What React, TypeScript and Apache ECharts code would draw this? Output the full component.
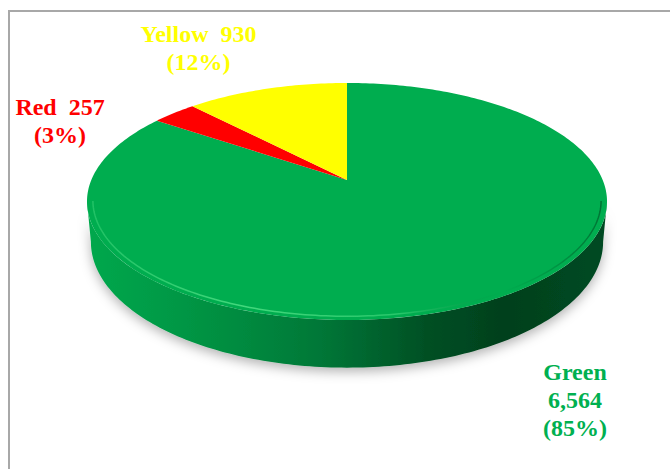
import React, { useEffect, useRef } from "react";
import * as echarts from "echarts";

// ---- data ----
const CATEGORIES = ["Green", "Red", "Yellow"];
const VALUES = [6564, 257, 930];
const SLICE_COLORS = ["#00ad4f", "#ff0000", "#ffff00"];
const LABEL_COLORS = ["#00b050", "#ff0000", "#ffff00"];
const LABEL_SEPARATORS = ["\n", "  ", "  "];

// ---- layout (not data) ----
const LABEL_OFFSETS = [
  [87, 99],
  [-114, 8],
  [-68, -41],
];
const CX = 347;
const CY = 180;
const RX = 255.7;
const RY = 114.6;
const PERSP = 0.1814;
const DEPTH = 39;

const SIDE_SHADES = [
  [0, 0.97],
  [0.15, 0.89],
  [0.3, 0.8],
  [0.45, 0.69],
  [0.55, 0.58],
  [0.65, 0.46],
  [0.8, 0.37],
  [1, 0.43],
];

function darken(hex: string, f: number) {
  const n = parseInt(hex.slice(1), 16);
  const r = Math.round(((n >> 16) & 255) * f);
  const g = Math.round(((n >> 8) & 255) * f);
  const b = Math.round((n & 255) * f);
  return `rgb(${r},${g},${b})`;
}

function proj(theta: number, r: number, drop: number) {
  const X = r * Math.sin(theta);
  const Z = -r * Math.cos(theta);
  const d = 1 - PERSP * Z;
  const rx = drop ? RX * 0.985 : RX;
  return [CX + (rx * X) / d, CY + (RY * Z) / d + (drop * DEPTH) / d];
}

export default function App() {
  const ref = useRef<HTMLDivElement>(null);
  useEffect(() => {
    if (!ref.current) return;
    const chart = echarts.init(ref.current, undefined, { renderer: "svg" });
    const total = VALUES.reduce((a, b) => a + b, 0);
    const DEG = Math.PI / 180;

    const renderItem = (params: any, api: any) => {
      const i = params.dataIndex;
      const v = api.value(0);
      let before = 0;
      for (let k = 0; k < i; k++) before += VALUES[k];
      const a0 = (before / total) * 2 * Math.PI;
      const a1 = ((before + v) / total) * 2 * Math.PI;
      const children: any[] = [];

      // top face
      const pts: number[][] = [[CX, CY]];
      const n = Math.max(2, Math.ceil((a1 - a0) / DEG));
      for (let s = 0; s <= n; s++) pts.push(proj(a0 + ((a1 - a0) * s) / n, 1, 0));
      children.push({
        type: "polygon",
        shape: { points: pts },
        style: { fill: SLICE_COLORS[i] },
        z2: 10,
      });

      // visible side wall
      const vis0 = Math.acos(-PERSP);
      const vis1 = 2 * Math.PI - vis0;
      const s0 = Math.max(a0, vis0);
      const s1 = Math.min(a1, vis1);
      if (s1 > s0) {
        const top: number[][] = [];
        const bot: number[][] = [];
        const hl: number[][] = [];
        const m = Math.max(2, Math.ceil((s1 - s0) / DEG));
        for (let s = 0; s <= m; s++) {
          const t = s0 + ((s1 - s0) * s) / m;
          top.push(proj(t, 1, 0));
          bot.push(proj(t, 1, 1));
          hl.push(proj(t, 0.978, 0));
        }
        const side = top.concat(bot.reverse());
        const left = proj(vis1, 1, 0)[0];
        const right = proj(vis0, 1, 0)[0];
        children.push({
          type: "polygon",
          shape: { points: side },
          style: {
            fill: {
              type: "linear",
              x: left,
              y: 0,
              x2: right,
              y2: 0,
              global: true,
              colorStops: SIDE_SHADES.map(([o, f]) => ({
                offset: o,
                color: darken(SLICE_COLORS[i], f),
              })),
            },
            shadowBlur: 12,
            shadowOffsetY: 4,
            shadowColor: "rgba(0,0,0,0.3)",
          },
          z2: 1,
        });
        children.push({
          type: "polyline",
          shape: { points: hl },
          style: {
            stroke: {
              type: "linear",
              x: left,
              y: 0,
              x2: right,
              y2: 0,
              global: true,
              colorStops: [
                { offset: 0, color: "rgba(90,230,140,0.35)" },
                { offset: 0.3, color: "rgba(90,230,140,0.75)" },
                { offset: 0.6, color: "rgba(90,230,140,0.45)" },
                { offset: 0.8, color: "rgba(0,110,50,0.0)" },
                { offset: 1, color: "rgba(0,70,30,0.6)" },
              ],
            },
            lineWidth: 1.5,
            fill: null,
          },
          z2: 11,
        });
      }

      // label
      const mid = (a0 + a1) / 2;
      const anchor = proj(mid, 1, 0);
      const off = LABEL_OFFSETS[i];
      const text = `${CATEGORIES[i]}${LABEL_SEPARATORS[i]}${v.toLocaleString(
        "en-US"
      )}\n(${Math.round((v / total) * 100)}%)`;
      children.push({
        type: "text",
        x: anchor[0] + off[0],
        y: anchor[1] + off[1],
        style: {
          text,
          fill: LABEL_COLORS[i],
          fontSize: 24,
          fontWeight: "bold",
          fontFamily: '"Liberation Serif", "Times New Roman", serif',
          align: "center",
          verticalAlign: "middle",
          lineHeight: 28,
        },
        z2: 20,
      });

      return { type: "group", children };
    };

    chart.setOption({
      animation: false,
      backgroundColor: "#ffffff",
      graphic: [
        {
          type: "rect",
          silent: true,
          shape: { x: 9, y: 11, width: 700, height: 500 },
          style: { fill: "none", stroke: "#a8a8a8", lineWidth: 2 },
        },
      ],
      series: [
        {
          type: "custom",
          coordinateSystem: "none",
          renderItem,
          data: VALUES.map((v, i) => ({ name: CATEGORIES[i], value: [v] })),
        },
      ],
    });
    return () => chart.dispose();
  }, []);
  return (
    <div
      ref={ref}
      style={{ position: "fixed", left: 0, top: 0, width: 670, height: 469 }}
    />
  );
}
